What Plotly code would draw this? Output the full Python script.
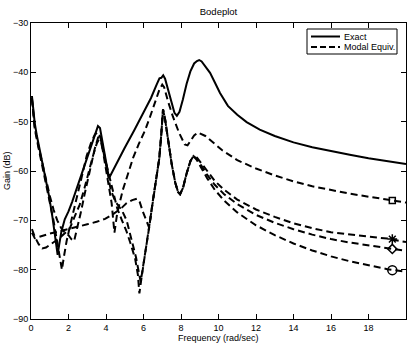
import plotly.graph_objects as go

# ---------------- data ----------------
exact_f = [0.05, 0.12, 0.2, 0.3, 0.4, 0.55, 0.75, 0.95, 1.15, 1.3, 1.42, 1.5, 1.62, 1.8, 2.0, 2.2,
           2.6, 3.0, 3.25, 3.45, 3.57, 3.68, 3.82, 3.98, 4.12, 4.22, 4.35, 4.6, 5.0, 5.5, 6.0, 6.4,
           6.7, 6.85, 6.95, 7.05, 7.15, 7.3, 7.5, 7.65, 7.78, 7.92, 8.1, 8.3, 8.5, 8.7, 8.85, 8.97,
           9.1, 9.25, 9.55, 9.8, 10.08, 10.5, 11.0, 11.5, 12.2, 13.0, 14.0, 15.0, 16.0, 17.0, 18.0,
           19.0, 20.0]
exact_g = [-44.8, -47.8, -50.3, -52.6, -54.4, -57.3, -61.0, -64.8, -69.5, -73.3, -77.0, -75.0, -72.3,
           -69.8, -68.2, -66.2, -61.8, -57.2, -54.8, -52.5, -50.9, -51.3, -54.5, -58.2, -60.6, -61.0,
           -60.0, -58.3, -55.3, -51.8, -48.3, -45.2, -42.5, -41.2, -41.1, -40.6, -41.3, -43.5, -46.5,
           -48.2, -48.8, -48.0, -45.5, -42.3, -39.8, -38.2, -37.7, -37.5, -37.8, -38.6, -40.1, -42.0,
           -44.2, -46.8, -48.6, -50.1, -51.6, -52.9, -54.2, -55.2, -56.0, -56.7, -57.4, -58.0, -58.6]

modalA_f = [0.05, 0.2, 0.4, 0.6, 0.8, 1.0, 1.2, 1.4, 1.55, 1.65, 1.75, 1.9, 2.1, 2.3, 2.52, 2.75,
            2.97, 3.2, 3.41, 3.55, 3.62, 3.72, 3.85, 4.0, 4.15, 4.3, 4.45, 4.6, 4.9, 5.2, 5.45, 5.75,
            6.08, 6.35, 6.6, 6.85, 7.0, 7.1, 7.3, 7.57, 7.9, 8.2, 8.35, 8.5, 8.7, 8.9, 9.3, 9.8,
            10.2, 11.0, 12.0, 13.0, 14.0, 15.0, 16.0, 17.0, 18.0, 19.0, 20.0]
modalA_g = [-45.5, -51.5, -55.3, -58.8, -62.5, -66.0, -70.0, -74.5, -78.0, -80.0, -77.5, -74.2, -70.8,
            -67.8, -64.3, -60.5, -56.9, -54.3, -52.6, -52.2, -52.3, -53.5, -56.3, -59.5, -62.5, -66.5,
            -72.5, -68.5, -63.8, -60.3, -57.3, -54.5, -51.8, -49.0, -46.2, -43.5, -42.5, -43.0, -45.8,
            -49.0, -52.3, -54.6, -54.8, -54.0, -52.8, -52.2, -52.9, -54.5, -55.8, -57.8, -59.5, -60.9,
            -62.1, -63.1, -63.9, -64.6, -65.2, -65.8, -66.4]

modalB_f = [0.05, 0.2, 0.4, 0.6, 0.8, 1.0, 1.3, 1.6, 1.85, 2.05, 2.3, 2.6, 2.85, 3.06, 3.3, 3.5,
            3.62, 3.72, 3.85, 4.0, 4.2, 4.4, 4.6, 4.85, 5.1, 5.3, 5.55, 5.7, 5.78, 5.9, 6.1, 6.3,
            6.5, 6.7, 6.84, 6.95, 7.04, 7.15, 7.3, 7.5, 7.7, 7.85, 7.95, 8.1, 8.3, 8.5, 8.66, 8.85,
            9.1, 9.4, 9.8, 10.3, 11.0, 12.0, 13.0, 14.0, 15.0, 16.0, 17.0, 18.0, 19.0, 20.0]
modalB_g = [-71.8, -73.3, -74.8, -75.7, -75.5, -75.0, -74.2, -73.3, -72.5, -71.8, -69.5, -66.8, -63.5,
            -60.3, -57.0, -54.5, -53.6, -54.0, -56.0, -58.5, -61.8, -64.8, -67.6, -70.0, -72.3, -74.6,
            -77.7, -81.0, -84.8, -81.5, -76.5, -71.5, -66.0, -61.0, -57.5, -52.5, -47.5, -49.5, -53.5,
            -58.5, -62.5, -64.3, -64.7, -63.5, -60.5, -58.0, -57.0, -57.3, -58.5, -60.0, -62.0, -63.8,
            -65.8, -67.8, -69.3, -70.6, -71.6, -72.4, -72.9, -73.3, -73.7, -74.4]

modalC_f = [0.05, 0.2, 0.4, 0.7, 1.0, 1.44, 2.0, 2.5, 3.0, 3.5, 3.95, 4.4, 4.8, 5.1, 5.4, 5.65,
            5.8, 5.97, 6.1, 6.2, 6.3, 6.5, 6.7, 6.84, 6.95, 7.04, 7.15, 7.3, 7.5, 7.7, 7.85, 7.95,
            8.1, 8.3, 8.5, 8.66, 8.85, 9.1, 9.4, 9.8, 10.3, 11.0, 12.0, 13.0, 14.0, 15.0, 16.0,
            17.0, 18.0, 19.0, 20.0]
modalC_g = [-72.5, -73.6, -73.4, -73.0, -72.7, -72.3, -71.8, -71.3, -70.8, -70.3, -69.7, -68.7, -67.6,
            -66.5, -65.9, -65.6, -66.3, -68.3, -69.6, -70.8, -71.5, -66.0, -61.0, -57.5, -52.5, -47.5,
            -49.5, -53.5, -58.5, -62.5, -64.3, -64.7, -63.5, -60.5, -58.0, -57.0, -57.5, -59.0, -60.8,
            -62.8, -64.7, -66.7, -68.9, -70.5, -71.8, -72.9, -73.8, -74.5, -75.1, -75.6, -76.2]

modalD_f = [0.05, 0.2, 0.4, 0.6, 0.8, 1.0, 1.2, 1.4, 1.6, 1.8, 2.0, 2.15, 2.3, 2.45, 2.65, 2.9,
            3.15, 3.4, 3.58, 3.68, 3.8, 3.95, 4.1, 4.25, 4.5, 4.85, 5.1, 5.36, 5.6, 5.75, 5.85,
            5.95, 6.1, 6.3, 6.5, 6.7, 6.84, 6.95, 7.04, 7.15, 7.3, 7.5, 7.7, 7.85, 7.95, 8.1, 8.3,
            8.5, 8.66, 8.85, 9.1, 9.4, 9.8, 10.3, 11.0, 12.0, 13.0, 14.0, 15.0, 16.0, 17.0, 18.0,
            19.0, 20.0]
modalD_g = [-45.2, -51.0, -55.0, -58.5, -62.0, -65.0, -67.8, -70.0, -71.5, -72.5, -73.0, -73.8, -74.2,
            -72.0, -68.5, -64.0, -59.5, -55.5, -53.2, -53.0, -54.5, -57.5, -61.0, -63.8, -66.2, -68.0,
            -70.0, -74.0, -77.5, -80.5, -82.5, -80.0, -76.5, -71.5, -66.0, -61.0, -57.5, -52.5, -47.5,
            -49.5, -53.5, -58.5, -62.5, -64.3, -64.7, -63.5, -60.5, -58.0, -57.0, -57.8, -59.5, -61.5,
            -63.8, -66.0, -68.4, -71.0, -73.0, -74.7, -76.1, -77.3, -78.3, -79.1, -79.9, -80.4]

marker_f = 19.27
marker_g = {"square-open": -66.0, "asterisk-open": -73.8, "diamond-open": -75.8, "circle-open": -80.1}

x_ticks = [0, 2, 4, 6, 8, 10, 12, 14, 16, 18, 20]
y_ticks = [-90, -80, -70, -60, -50, -40, -30]
legend_labels = ["Exact", "Modal Equiv."]

# ---------------- figure ----------------
FONT = "Liberation Sans, Arial, Helvetica, sans-serif"
FS = 9
DASH = "7px,4px"
L, R, T, B = 31, 5, 23, 25
W, H = 411, 344
PW, PH = W - L - R, H - T - B


def px(xp):
    return (xp - L) / PW


def py(yp):
    return (H - B - yp) / PH


fig = go.Figure()
fig.add_trace(go.Scatter(x=exact_f, y=exact_g, mode="lines", name=legend_labels[0],
                         line=dict(color="black", width=2)))

modal = [(modalA_f, modalA_g), (modalB_f, modalB_g), (modalC_f, modalC_g), (modalD_f, modalD_g)]
for f, g in modal:
    fig.add_trace(go.Scatter(x=f, y=g, mode="lines", name=legend_labels[1],
                             line=dict(color="black", width=2, dash=DASH)))

sizes = {"square-open": 6, "asterisk-open": 8, "diamond-open": 7, "circle-open": 9}
for sym, val in marker_g.items():
    fig.add_trace(go.Scatter(x=[marker_f], y=[val], mode="markers",
                             marker=dict(symbol=sym, size=sizes[sym], color="black",
                                         line=dict(color="black", width=1.5))))

axis_common = dict(showline=True, linecolor="black", linewidth=1, mirror="ticks",
                   ticks="inside", ticklen=5, tickcolor="black", tickwidth=1,
                   showgrid=False, zeroline=False,
                   tickfont=dict(family=FONT, size=FS, color="black"))

# hand-drawn legend box (MATLAB style)
shapes = [
    dict(type="rect", xref="paper", yref="paper", x0=px(307), x1=px(397), y0=py(54), y1=py(29),
         line=dict(color="black", width=1), fillcolor="white", layer="above"),
    dict(type="line", xref="paper", yref="paper", x0=px(311), x1=px(340), y0=py(36.5), y1=py(36.5),
         line=dict(color="black", width=2), layer="above"),
    dict(type="line", xref="paper", yref="paper", x0=px(311), x1=px(340), y0=py(47), y1=py(47),
         line=dict(color="black", width=2, dash="6px,3px"), layer="above"),
]

annotations = [
    dict(text="Frequency (rad/sec)", xref="paper", yref="paper", x=0.5, y=py(337.5),
         xanchor="center", yanchor="middle", showarrow=False,
         font=dict(family=FONT, size=FS, color="black")),
    dict(text="Gain (dB)", xref="paper", yref="paper", x=px(7), y=0.5,
         xanchor="center", yanchor="middle", showarrow=False, textangle=-90,
         font=dict(family=FONT, size=FS, color="black")),
    dict(text=legend_labels[0], xref="paper", yref="paper", x=px(342), y=py(36.5),
         xanchor="left", yanchor="middle", showarrow=False,
         font=dict(family=FONT, size=FS, color="black")),
    dict(text=legend_labels[1], xref="paper", yref="paper", x=px(342), y=py(47),
         xanchor="left", yanchor="middle", showarrow=False,
         font=dict(family=FONT, size=FS, color="black")),
]

fig.update_layout(
    width=W, height=H,
    margin=dict(l=L, r=R, t=T, b=B),
    paper_bgcolor="white", plot_bgcolor="white",
    font=dict(family=FONT, size=FS, color="black"),
    title=dict(text="Bodeplot", x=(L + PW / 2) / W, xanchor="center",
               y=1 - 12 / H, yanchor="middle", font=dict(family=FONT, size=FS + 0.5, color="black")),
    xaxis=dict(range=[0, 20], tickvals=x_ticks, **axis_common),
    yaxis=dict(range=[-90, -30], tickvals=y_ticks, **axis_common),
    showlegend=False,
    shapes=shapes,
    annotations=annotations,
)

fig.write_html("out.html")
